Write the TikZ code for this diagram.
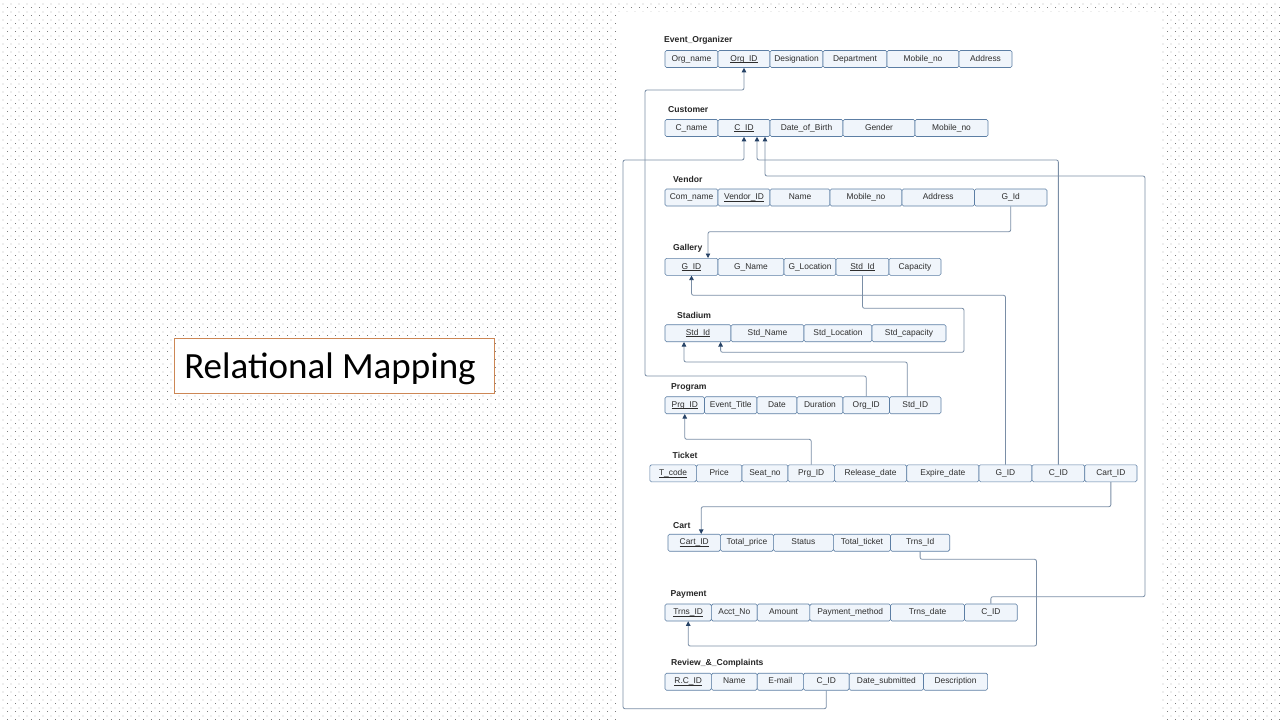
\documentclass[tikz,border=0pt]{standalone}
\usepackage{fontspec}
\setmainfont{Liberation Sans}
\newfontfamily\slidefont{Carlito}
\usepackage{tikz}
\usetikzlibrary{arrows.meta, patterns.meta}

\definecolor{cellfill}{RGB}{240,245,251}
\definecolor{celldraw}{RGB}{92,126,164}
\definecolor{linkcol}{RGB}{122,142,166}
\definecolor{tipcol}{RGB}{38,66,102}
\definecolor{textcol}{RGB}{45,45,45}
\definecolor{dotcol}{RGB}{125,125,125}
\definecolor{boxcol}{RGB}{205,135,85}

% staggered dots of the slide background
\tikzdeclarepattern{
  name=slidedots,
  type=uncolored,
  bottom left={(0pt,0pt)},
  top right={(8pt,8pt)},
  tile size={(8pt,8pt)},
  code={
    \pgfpathrectangle{\pgfpoint{0pt}{0pt}}{\pgfpoint{1pt}{1pt}}
    \pgfpathrectangle{\pgfpoint{4pt}{4pt}}{\pgfpoint{1pt}{1pt}}
    \pgfusepath{fill}
  }
}

\tikzset{
>={Triangle[length=4.5pt,width=4.5pt,color=tipcol]}, % small filled heads
cell/.style={draw=celldraw, fill=cellfill, line width=0.6pt, rounded corners=1.5pt,
  minimum height=17pt, inner sep=0pt, text height=6.2pt, text depth=1.8pt,
  text=textcol, font=\fontsize{8.4}{10}\selectfont},
tname/.style={anchor=west, inner sep=0pt, text=black!85, font=\bfseries\fontsize{8.6}{10}\selectfont},
fk/.style={->, draw=linkcol, line width=0.8pt, rounded corners=2pt},
}

% key attribute: thin underline on the level of the underscore
\newcommand{\pk}[1]{\setbox0\hbox{#1}\rlap{\rule[-1.5pt]{\wd0}{0.45pt}}\box0}

% one row of attribute cells: prefix, y, list of left/right/text
\newcommand{\relrow}[3]{%
  \foreach \lx/\rx/\txt [count=\i] in {#3}
  {
    \node[cell, minimum width={(\rx-\lx)*1pt}] (#1\i) at ({(\lx+\rx)/2},#2) {\txt};
  }
}

\begin{document}
\begin{tikzpicture}[x=1pt, y=-1pt]
  \useasboundingbox (0,0) rectangle (1280,720);

  % Background
  \fill[white] (0,0) rectangle (1280,720);
  \fill[pattern=slidedots, pattern color=dotcol] (0,0) rectangle (1280,720);
  \fill[white] (616,12) rectangle (1160,720);

  % Title
  \node[draw=boxcol, fill=white, line width=0.8pt, minimum width=320pt, minimum height=55pt] (titlebox) at (334,365.5) {};
  \node[inner sep=0pt, font=\slidefont\fontsize{37}{40}\selectfont] (slidetitle) at (330,369) {Relational Mapping};

  % Event_Organizer
  \node[tname] (orgname) at (664,40.7) {Event\_Organizer};
  \relrow{org}{59}{665/718/Org\_name, 718/770/{\pk{Org\_ID}}, 770/823/Designation,
    823/887/Department, 887/959/Mobile\_no, 959/1012/Address}

  % Customer
  \node[tname] (cusname) at (668,110) {Customer};
  \relrow{cus}{128}{665/718/C\_name, 718/770/{\pk{C\_ID}}, 770/843/Date\_of\_Birth,
    843/915/Gender, 915/988/Mobile\_no}

  % Vendor
  \node[tname] (venname) at (673,179.3) {Vendor};
  \relrow{ven}{197.5}{665/718/Com\_name, 718/770/{\pk{Vendor\_ID}}, 770/830/Name,
    830/902/Mobile\_no, 902/974.5/Address, 974.5/1047/G\_Id}

  % Gallery
  \node[tname] (galname) at (673,248.7) {Gallery};
  \relrow{gal}{266.8}{665/718/{\pk{G\_ID}}, 718/784/G\_Name, 784/836/G\_Location,
    836/889/{\pk{Std\_Id}}, 889/941/Capacity}

  % Stadium
  \node[tname] (stdname) at (677,315.7) {Stadium};
  \relrow{std}{333.2}{665/731/{\pk{Std\_Id}}, 731/804/Std\_Name, 804/872/Std\_Location,
    872/946/Std\_capacity}

  % Program
  \node[tname] (prgname) at (671,387) {Program};
  \relrow{prg}{405.2}{665/704.5/{\pk{Prg\_ID}}, 704.5/757/Event\_Title, 757/797/Date,
    797/843/Duration, 843/889.5/Org\_ID, 889.5/941/Std\_ID}

  % Ticket
  \node[tname] (ticname) at (672.5,455.7) {Ticket};
  \relrow{tic}{473.3}{649.8/696.3/{\pk{T\_code}}, 696.3/742/Price, 742/788/Seat\_no,
    788/834.4/Prg\_ID, 834.4/906.7/Release\_date, 906.7/979/Expire\_date, 979/1032/G\_ID,
    1032/1084.7/C\_ID, 1084.7/1137/Cart\_ID}

  % Cart
  \node[tname] (crtname) at (673,525.5) {Cart};
  \relrow{crt}{542.7}{668/720.4/{\pk{Cart\_ID}}, 720.4/773.4/Total\_price, 773.4/833.3/Status,
    833.3/890.5/Total\_ticket, 890.5/949.7/Trns\_Id}

  % Payment
  \node[tname] (payname) at (670.5,594.7) {Payment};
  \relrow{pay}{612.5}{665/711.4/{\pk{Trns\_ID}}, 711.4/757.2/Acct\_No, 757.2/809.9/Amount,
    809.9/890.5/Payment\_method, 890.5/964.5/Trns\_date, 964.5/1017.2/C\_ID}

  % Review_&_Complaints
  \node[tname] (revname) at (671,663.7) {Review\_\&\_Complaints};
  \relrow{rev}{681.7}{665/711.4/{\pk{R.C\_ID}}, 711.4/757.2/Name, 757.2/803.4/E-mail,
    803.4/849.2/C\_ID, 849.2/923.5/Date\_submitted, 923.5/987.6/Description}

  % Foreign keys
  \draw[fk] (prg5.north) -- (prg5.north |- 0,376) -| (645,90) -| (org2.south);
  \draw[fk] (rev4.south) -- (rev4.south |- 0,708.7) -| (623,160) -| (cus2.south);
  \draw[fk] (tic8.north) -- (tic8.north |- 0,160) -| ([xshift=13pt]cus2.south);
  \draw[fk] (pay6.north) -- (pay6.north |- 0,596.7) -| (1145,176) -| ([xshift=21pt]cus2.south);
  \draw[fk] (ven6.south) -- (ven6.south |- 0,231.7) -| ([xshift=16.5pt]gal1.north);
  \draw[fk] (tic7.north) -- (tic7.north |- 0,295.3) -| (gal1.south);
  \draw[fk] (gal4.south) -- (gal4.south |- 0,308.3) -| (964,352.3) -| ([xshift=22.6pt]std1.south);
  \draw[fk] ([xshift=-8pt]prg6.north) |- (800,362) -| ([xshift=-14pt]std1.south);
  \draw[fk] (tic4.north) -- (tic4.north |- 0,439.3) -| (prg1.south);
  \draw[fk] (tic9.south) -- (tic9.south |- 0,506.7) -| ([xshift=7pt]crt1.north);
  \draw[fk] (crt5.south) -- (crt5.south |- 0,559.3) -| (1036.5,646) -| (pay1.south);
\end{tikzpicture}
\end{document}
